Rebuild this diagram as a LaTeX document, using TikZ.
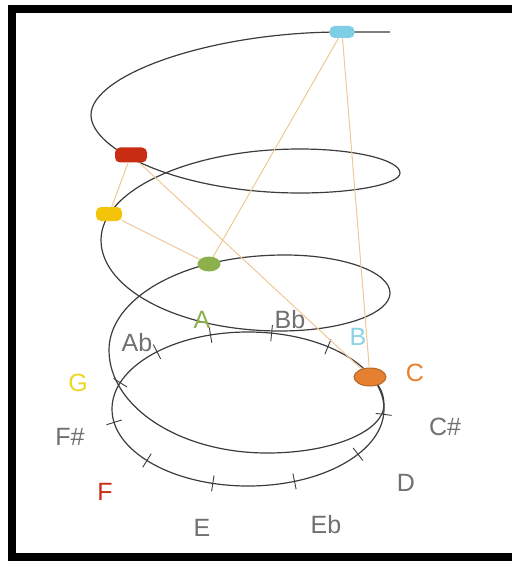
\documentclass[tikz,border=0pt]{standalone}
\usepackage{fontspec}
\setmainfont{Liberation Sans}
\usetikzlibrary{shapes.geometric}
\definecolor{helixgray}{RGB}{60,60,60}
\definecolor{chordtan}{RGB}{240,200,150}
\definecolor{notegray}{RGB}{112,112,112}
\definecolor{notecyan}{RGB}{128,206,230}
\definecolor{notered}{RGB}{200,45,20}
\definecolor{noteyellow}{RGB}{244,196,10}
\definecolor{notegreen}{RGB}{140,176,76}
\definecolor{noteorange}{RGB}{228,128,48}
\definecolor{labelyellow}{RGB}{238,214,40}
\definecolor{labelcyan}{RGB}{140,210,230}

\begin{document}
\begin{tikzpicture}[
  x=1pt, y=-1pt,
  helix/.style={helixgray, line width=1.2pt},
  semitick/.style={helixgray, line width=0.9pt},
  notedot/.style={rectangle, rounded corners=5pt, inner sep=0pt, minimum width=25pt, minimum height=12pt},
  noteoval/.style={ellipse, inner sep=0pt},
  chordline/.style={chordtan, line width=1pt},
  notelabel/.style={font=\fontsize{25}{30}\selectfont, text=notegray, inner sep=0pt}
]
\useasboundingbox (0,0) rectangle (512,561);
\draw[line width=8pt] (512,9.5) -- (11.5,9.5) -- (11.5,557) -- (512,557);

% pitch helix
\draw[helix] (390,32) -- (342,32)
  .. controls (210,32) and (91,75) .. (91,115)
  .. controls (91,150) and (180,193) .. (300,193)
  .. controls (355,193) and (400,184) .. (400,173)
  .. controls (400,160) and (355,149) .. (300,149)
  .. controls (190,149) and (101,190) .. (101,240)
  .. controls (101,290) and (181,331) .. (280,331)
  .. controls (341,331) and (390,314) .. (390,293)
  .. controls (390,272) and (343,255) .. (285,255)
  .. controls (180,255) and (109,300) .. (109,350)
  .. controls (109,407) and (180,453) .. (267,453)
  .. controls (335,453) and (384,430) .. (384,405)
  .. controls (384,392) and (378,383) .. (370,377);

% chroma circle
\draw[helix] (248,409) ellipse [x radius=136, y radius=77];
\foreach \a in {4,36,70,105,138,170,200,228,254,280,306}{
  \pgfmathsetmacro\nx{77*cos(\a)}
  \pgfmathsetmacro\ny{136*sin(\a)}
  \pgfmathsetmacro\nl{veclen(\nx,\ny)}
  \draw[semitick] ({248+136*cos(\a)},{409+77*sin(\a)})
    +({-8*\nx/\nl},{-8*\ny/\nl}) -- +({8*\nx/\nl},{8*\ny/\nl});
}

\node[notedot, fill=notecyan] (nB) at (342,32) {};
\node[notedot, fill=notered, minimum width=32pt, minimum height=15pt] (nF) at (131,155) {};
\node[notedot, fill=noteyellow, minimum width=26pt, minimum height=14pt] (nG) at (109,214) {};
\node[noteoval, fill=notegreen, minimum width=23pt, minimum height=15pt] (nA) at (209,264) {};
\node[noteoval, fill=noteorange, draw=noteorange!80!black, line width=1pt, minimum width=32pt, minimum height=18pt] (nC) at (370,377) {};

\draw[chordline] (nF) -- (nG);
\draw[chordline] (nG) -- (nA);
\draw[chordline] (nA) -- (nB);
\draw[chordline] (nB) -- (nC);
\draw[chordline] (nF) -- (nC);

% note names
\node[notelabel] (lAb) at (137,343) {Ab};
\node[notelabel, text=notegreen] (lA) at (202,320) {A};
\node[notelabel] (lBb) at (290,320) {Bb};
\node[notelabel, text=labelcyan] (lB) at (358,337) {B};
\node[notelabel, text=noteorange] (lC) at (415,373) {C};
\node[notelabel] (lCs) at (445,427) {C\#};
\node[notelabel] (lD) at (406,483) {D};
\node[notelabel] (lEb) at (326,525) {Eb};
\node[notelabel] (lE) at (202,528) {E};
\node[notelabel, text=notered] (lF) at (105,492) {F};
\node[notelabel] (lFs) at (70,437) {F\#};
\node[notelabel, text=labelyellow] (lG) at (78,383) {G};
\end{tikzpicture}
\end{document}
